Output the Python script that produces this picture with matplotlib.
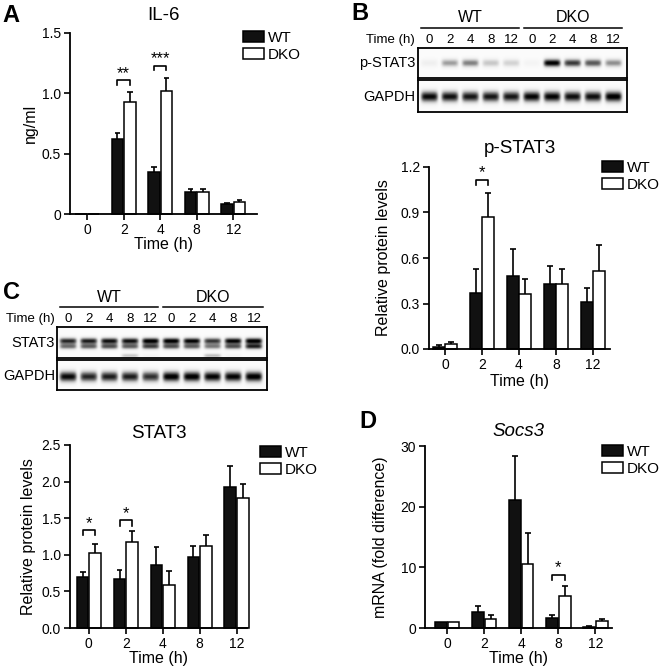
import numpy as np
import matplotlib
matplotlib.use('Agg')
import matplotlib.pyplot as plt
import matplotlib.transforms as mtransforms

plt.rcParams['font.family'] = ['Liberation Sans', 'DejaVu Sans']

W, H = 660, 671

times = ['0', '2', '4', '8', '12']
groups = ['WT', 'DKO']

# IL-6 (ng/ml)
il6_wt = [0.0, 0.62, 0.35, 0.18, 0.085]
il6_wt_err = [0.0, 0.05, 0.04, 0.027, 0.006]
il6_dko = [0.0, 0.93, 1.02, 0.185, 0.10]
il6_dko_err = [0.0, 0.08, 0.11, 0.02, 0.015]
il6_sig = [(1, 1.07, 1.11, '**'), (2, 1.19, 1.23, '***')]

# p-STAT3 relative protein levels
pstat3_wt = [0.015, 0.37, 0.48, 0.43, 0.31]
pstat3_wt_err = [0.01, 0.16, 0.18, 0.12, 0.09]
pstat3_dko = [0.03, 0.87, 0.36, 0.43, 0.515]
pstat3_dko_err = [0.015, 0.16, 0.10, 0.10, 0.17]
pstat3_sig = [(1, 1.08, 1.116, '*')]

# STAT3 relative protein levels
stat3_wt = [0.695, 0.67, 0.855, 0.975, 1.93]
stat3_wt_err = [0.07, 0.12, 0.245, 0.14, 0.28]
stat3_dko = [1.03, 1.18, 0.59, 1.125, 1.775]
stat3_dko_err = [0.12, 0.14, 0.19, 0.145, 0.19]
stat3_sig = [(0, 1.27, 1.34, '*'), (1, 1.40, 1.47, '*')]

# Socs3 mRNA (fold difference)
socs3_wt = [1.0, 2.6, 21.1, 1.65, 0.2]
socs3_wt_err = [0.0, 1.0, 7.3, 0.55, 0.1]
socs3_dko = [1.0, 1.5, 10.5, 5.3, 1.1]
socs3_dko_err = [0.0, 0.6, 5.1, 1.7, 0.38]
socs3_sig = [(3, 7.95, 8.78, '*')]

# western blot band intensities (lanes: WT 0-12 h, DKO 0-12 h)
band_pstat3 = [0.1, 0.45, 0.55, 0.3, 0.25, 0.06, 1.0, 0.8, 0.7, 0.5]
band_gapdh_b = [0.95, 0.92, 0.9, 0.9, 0.9, 0.97, 0.97, 0.93, 0.93, 1.0]
band_stat3_top = [0.85, 0.88, 0.92, 0.92, 1.0, 1.0, 0.97, 0.8, 0.97, 1.0]
band_stat3_low = [0.6, 0.65, 0.7, 0.65, 0.75, 0.7, 0.65, 0.55, 0.7, 0.85]
band_stat3_extra = [0.0, 0.0, 0.0, 0.3, 0.05, 0.0, 0.0, 0.35, 0.05, 0.0]
band_gapdh_c = [0.95, 0.85, 0.88, 0.88, 0.82, 1.0, 1.0, 0.97, 0.97, 1.0]


fig = plt.figure(figsize=(W / 100, H / 100), dpi=100)


def fx(x):
    return x / W


def fy(y):
    return 1 - y / H


def px_axes(x0, y0, x1, y1):
    return fig.add_axes([fx(x0), fy(y1), (x1 - x0) / W, (y1 - y0) / H])


def bar_panel(ax, wt, wt_err, dko, dko_err, sig, xlim, ylim, yticks, yticklabels):
    x = np.arange(len(times))
    off, bw = 0.17, 0.32
    b1 = ax.bar(x - off, wt, bw, color='#111111', edgecolor='black', lw=1.1, clip_on=False)
    b2 = ax.bar(x + off, dko, bw, color='white', edgecolor='black', lw=1.1, clip_on=False)
    for xs, v, e in ((x - off, wt, wt_err), (x + off, dko, dko_err)):
        v = np.asarray(v)
        e = np.asarray(e)
        m = e > 0
        ax.vlines(xs[m], v[m], v[m] + e[m], color='black', lw=1.2)
        ax.hlines(v[m] + e[m], xs[m] - 0.08, xs[m] + 0.08, color='black', lw=1.2)
    for i, lo, hi, s in sig:
        ax.plot([i - off, i - off, i + off, i + off], [lo, hi, hi, lo], color='black', lw=1.2)
        ax.text(i, hi + (ylim[1] - ylim[0]) * 0.012, s, ha='center', va='baseline', fontsize=12)
    ax.set_xlim(xlim)
    ax.set_ylim(ylim)
    ax.set_xticks(x)
    ax.set_xticklabels(times)
    ax.set_yticks(yticks)
    ax.set_yticklabels(yticklabels)
    ax.tick_params(direction='out', length=4.5, width=1.2, labelsize=10, pad=2)
    for s in ('top', 'right'):
        ax.spines[s].set_visible(False)
    for s in ('left', 'bottom'):
        ax.spines[s].set_linewidth(1.3)
    return b1, b2


def legend_at(handles, x, y):
    fig.legend(handles, groups, loc='upper left', bbox_to_anchor=(fx(x), fy(y)),
               frameon=False, fontsize=11, handlelength=1.35, handleheight=0.75,
               handletextpad=0.25, labelspacing=0.2, borderpad=0, borderaxespad=0)


def draw_blot(ax, rows, xlim):
    xs = np.linspace(xlim[0], xlim[1], 420)
    ys = np.linspace(0, 1, 80)
    X, Y = np.meshgrid(xs, ys)
    img = np.full(X.shape, 0.03)
    for vals, yc, th in rows:
        for i, v in enumerate(vals):
            img += v * np.exp(-((X - i) / 0.42) ** 6) * np.exp(-((Y - yc) / th) ** 2)
    ax.imshow(np.clip(img, 0, 1), cmap='Greys', vmin=0, vmax=1.0,
              extent=(xlim[0], xlim[1], 1, 0), aspect='auto', interpolation='bilinear')
    ax.set_xlim(xlim)
    ax.set_ylim(1, 0)
    ax.set_xticks([])
    ax.set_yticks([])
    for s in ax.spines.values():
        s.set_linewidth(1.3)


def blot_header(ax, y_group, y_line, y_lane):
    trans = mtransforms.blended_transform_factory(ax.transData, fig.transFigure)
    for g, (a, b) in zip(groups, ((-0.38, 4.38), (4.62, 9.42))):
        ax.plot([a, b], [fy(y_line)] * 2, color='black', lw=1.1, transform=trans, clip_on=False)
        ax.text((a + b) / 2, fy(y_group), g, transform=trans, ha='center', va='center', fontsize=11.5)
    for i, t in enumerate(times * 2):
        ax.text(i, fy(y_lane), t, transform=trans, ha='center', va='center', fontsize=9.5)


# ---------------- A: IL-6
axA = px_axes(70, 33, 257, 214)
hA = bar_panel(axA, il6_wt, il6_wt_err, il6_dko, il6_dko_err, il6_sig,
               (-0.47, 4.65), (0, 1.5), [0, 0.5, 1.0, 1.5], ['0', '0.5', '1.0', '1.5'])
axA.set_title('IL-6', fontsize=13.5, pad=9)
axA.set_ylabel('ng/ml', fontsize=11.5)
axA.yaxis.set_label_coords(-0.17, 0.5)
axA.set_xlabel('Time (h)', fontsize=11.5)
axA.xaxis.set_label_coords(0.5, -0.125)
legend_at(hA, 243, 31)
fig.text(fx(11), fy(15), 'A', fontsize=17, fontweight='bold', ha='center', va='center')

# ---------------- B: p-STAT3 blot
blot_xlim = (-0.55, 9.65)
axB1 = px_axes(418, 48, 627, 78)
draw_blot(axB1, [(band_pstat3, 0.5, 0.13)], blot_xlim)
axB2 = px_axes(418, 80, 627, 112)
draw_blot(axB2, [(band_gapdh_b, 0.52, 0.17)], blot_xlim)
blot_header(axB1, 18, 28, 40)
fig.text(fx(415), fy(40), 'Time (h)', fontsize=9.5, ha='right', va='center')
fig.text(fx(415), fy(63), 'p-STAT3', fontsize=10.5, ha='right', va='center')
fig.text(fx(415), fy(97), 'GAPDH', fontsize=10.5, ha='right', va='center')
fig.text(fx(360), fy(14), 'B', fontsize=17, fontweight='bold', ha='center', va='center')

# ---------------- B: p-STAT3 quantification
axB = px_axes(429, 167, 610, 349)
hB = bar_panel(axB, pstat3_wt, pstat3_wt_err, pstat3_dko, pstat3_dko_err, pstat3_sig,
               (-0.43, 4.46), (0, 1.2), [0, 0.3, 0.6, 0.9, 1.2],
               ['0.0', '0.3', '0.6', '0.9', '1.2'])
axB.set_title('p-STAT3', fontsize=13.5, pad=10)
axB.set_ylabel('Relative protein levels', fontsize=11.5)
axB.yaxis.set_label_coords(-0.21, 0.5)
axB.set_xlabel('Time (h)', fontsize=11.5)
axB.xaxis.set_label_coords(0.5, -0.135)
legend_at(hB, 602, 161)

# ---------------- C: STAT3 blot
blot_xlim_c = (-0.53, 9.63)
axC1 = px_axes(57, 327, 267, 358)
draw_blot(axC1, [(band_stat3_top, 0.45, 0.1), (band_stat3_low, 0.63, 0.09),
                 (band_stat3_extra, 0.93, 0.07)], blot_xlim_c)
axC2 = px_axes(57, 360, 267, 390)
draw_blot(axC2, [(band_gapdh_c, 0.57, 0.17)], blot_xlim_c)
blot_header(axC1, 298, 307, 319)
fig.text(fx(55), fy(319), 'Time (h)', fontsize=9.5, ha='right', va='center')
fig.text(fx(55), fy(343), 'STAT3', fontsize=10.5, ha='right', va='center')
fig.text(fx(55), fy(376), 'GAPDH', fontsize=10.5, ha='right', va='center')
fig.text(fx(11), fy(292), 'C', fontsize=17, fontweight='bold', ha='center', va='center')

# ---------------- C: STAT3 quantification
axC = px_axes(70, 445, 247, 628)
hC = bar_panel(axC, stat3_wt, stat3_wt_err, stat3_dko, stat3_dko_err, stat3_sig,
               (-0.51, 4.28), (0, 2.5), [0, 0.5, 1.0, 1.5, 2.0, 2.5],
               ['0.0', '0.5', '1.0', '1.5', '2.0', '2.5'])
axC.set_title('STAT3', fontsize=13.5, pad=5)
axC.set_ylabel('Relative protein levels', fontsize=11.5)
axC.yaxis.set_label_coords(-0.19, 0.5)
axC.set_xlabel('Time (h)', fontsize=11.5)
axC.xaxis.set_label_coords(0.5, -0.125)
legend_at(hC, 260, 446)

# ---------------- D: Socs3
axD = px_axes(425, 446, 612, 628)
hD = bar_panel(axD, socs3_wt, socs3_wt_err, socs3_dko, socs3_dko_err, socs3_sig,
               (-0.6, 4.45), (0, 30), [0, 10, 20, 30], ['0', '10', '20', '30'])
axD.set_title('Socs3', fontsize=13.5, pad=7, fontstyle='italic')
axD.set_ylabel('mRNA (fold difference)', fontsize=11.5)
axD.yaxis.set_label_coords(-0.2, 0.5)
axD.set_xlabel('Time (h)', fontsize=11.5)
axD.xaxis.set_label_coords(0.5, -0.125)
legend_at(hD, 602, 445)
fig.text(fx(368), fy(422), 'D', fontsize=17, fontweight='bold', ha='center', va='center')

fig.savefig('out.png', dpi=100, facecolor='white')
